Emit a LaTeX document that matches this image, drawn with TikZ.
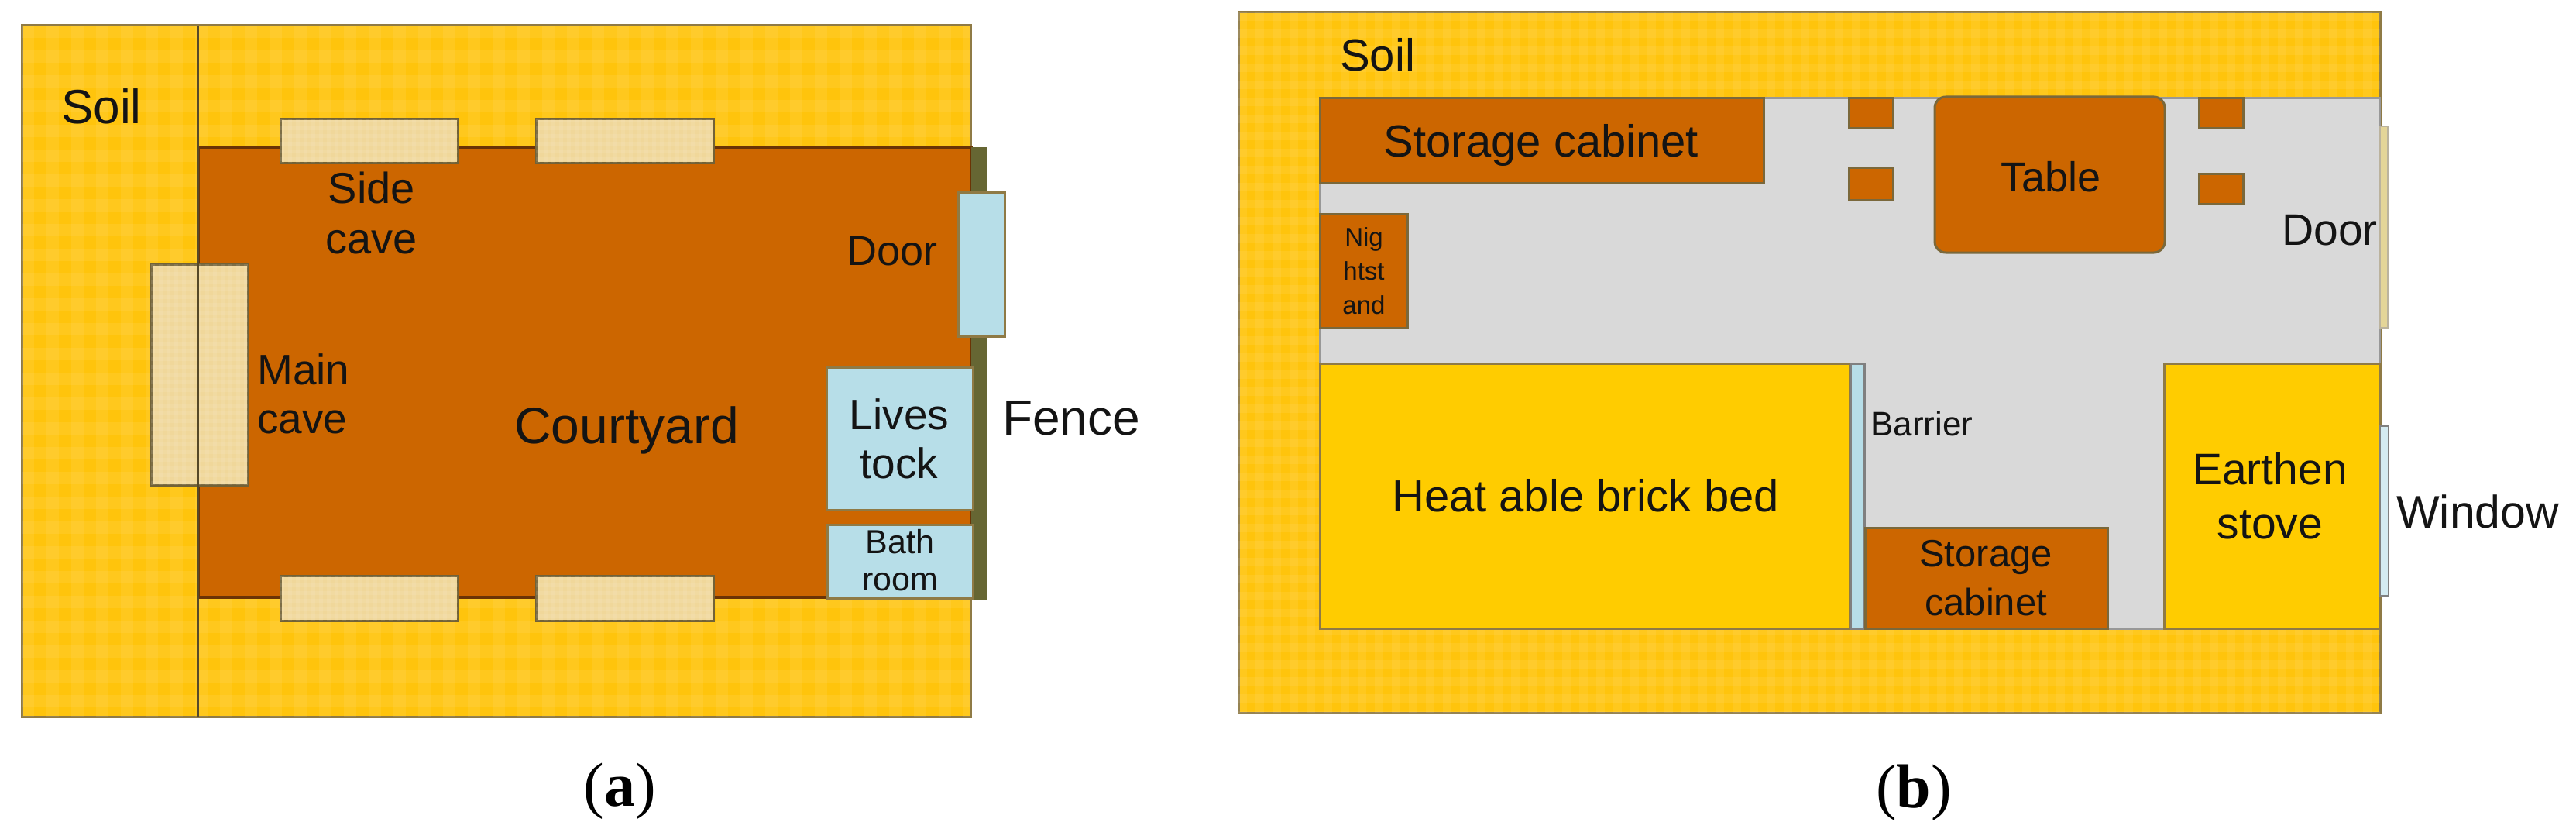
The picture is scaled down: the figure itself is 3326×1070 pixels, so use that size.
\documentclass[tikz,border=0pt]{standalone}
\usepackage{fontspec}
\setmainfont{Liberation Sans}
\newfontfamily\capfont{Liberation Serif}
\newcommand{\fsz}[2]{\fontsize{#1}{#2}\selectfont}
% faint checks over a filled area: x1 y1 x2 y2 period opacity
\newcommand{\plaid}[6]{%
  \begin{scope}
    \clip (#1,#2) rectangle (#3,#4);
    \foreach \gx in {#1,\the\numexpr#1+#5\relax,...,#3}
      \fill[white,opacity=#6] (\gx,#2) rectangle (\gx+#5/2,#4);
    \foreach \gy in {#2,\the\numexpr#2+#5\relax,...,#4}
      \fill[white,opacity=#6] (#1,\gy) rectangle (#3,\gy+#5/2);
  \end{scope}}
\definecolor{soilc}{HTML}{FFC40C}
\definecolor{edgec}{HTML}{8F7A45}
\definecolor{yardc}{HTML}{CC6600}
\definecolor{yardedge}{HTML}{6B3305}
\definecolor{fencec}{HTML}{666633}
\definecolor{cavec}{HTML}{F0D79A}
\definecolor{bluec}{HTML}{B7DEE8}
\definecolor{floorc}{HTML}{D9D9D9}
\definecolor{bedc}{HTML}{FFCC00}
\tikzset{
  soilbox/.style={fill=soilc,draw=edgec,line width=3pt},
  yardbox/.style={fill=yardc,draw=yardedge,line width=4pt},
  cavebox/.style={fill=cavec,draw=edgec!80!black,line width=3pt},
  bluebox/.style={fill=bluec,draw=edgec,line width=3pt},
  woodbox/.style={fill=yardc,draw=edgec!85!black,line width=3pt},
  bedbox/.style={fill=bedc,draw=edgec,line width=3pt},
  lbl/.style={inner sep=0pt,align=center,text=black!92,anchor=base},
  lblw/.style={lbl,anchor=base west}
}
\begin{document}
\begin{tikzpicture}[x=1pt,y=-1pt]
\useasboundingbox (0,0) rectangle (3326,1070);

% --- (a) courtyard ---
\draw[soilbox] (28,33) rectangle (1253,925);
\plaid{28}{33}{1253}{925}{32}{0.07}
\draw[yardbox] (256,190) rectangle (1254,771);
\fill[fencec] (1254,190) rectangle (1275,775);
\foreach \cx in {362,692}{
  \draw[cavebox] (\cx,153) rectangle (\cx+229,210);
  \plaid{\cx}{153}{\the\numexpr\cx+229\relax}{210}{10}{0.08}
  \draw[cavebox] (\cx,743) rectangle (\cx+229,801);
  \plaid{\cx}{743}{\the\numexpr\cx+229\relax}{801}{10}{0.08}
}
\draw[cavebox] (195,341) rectangle (320,626);
\plaid{195}{341}{320}{626}{10}{0.08}
\draw[bluebox] (1237,248) rectangle (1297,434);
\draw[bluebox] (1067,474) rectangle (1256,658);
\draw[bluebox] (1068,677) rectangle (1256,772);
\draw[edgec!60!black,line width=2.5pt] (256,33) -- (256,925);

\node[lbl,font=\fsz{62}{62}] (soilA) at (131,159) {Soil};
\node[lbl,font=\fsz{56}{65}] (sidecave) at (480,327) {Side\\cave};
\node[lblw,font=\fsz{55}{63},align=left] (maincave) at (332,559) {Main\\cave};
\node[lbl,font=\fsz{66}{66}] (yard) at (809,572) {Courtyard};
\node[lbl,font=\fsz{54}{54}] (doorA) at (1152,342) {Door};
\node[lbl,font=\fsz{55}{63}] (livestock) at (1161,617) {Lives\\tock};
\node[lbl,font=\fsz{43}{48}] (bathroom) at (1162,762) {Bath\\room};
\node[lblw,font=\fsz{64}{64}] (fence) at (1294,561) {Fence};

% --- (b) cave room ---
\draw[soilbox] (1599,16) rectangle (3073,920);
\plaid{1599}{16}{3073}{920}{22}{0.07}
\draw[floorc!70!black,fill=floorc,line width=3pt] (1704,127) rectangle (3072,811);
\draw[woodbox] (1704,127) rectangle (2277,236);
\foreach \sx/\sa/\sb in {2387/216/258,2839/224/263}{
  \draw[woodbox] (\sx,127) rectangle (\sx+57,165);
  \draw[woodbox] (\sx,\sa) rectangle (\sx+57,\sb);
}
\draw[woodbox,rounded corners=14pt] (2498,125) rectangle (2795,326);
\draw[woodbox] (1704,276) rectangle (1817,423);
\draw[bedbox] (1704,469) rectangle (2388,811);
\draw[bluebox,draw=gray] (2389,469) rectangle (2407,811);
\draw[woodbox] (2408,681) rectangle (2721,811);
\draw[bedbox] (2794,469) rectangle (3072,811);
\draw[floorc!60!edgec,fill=floorc!70!bedc,line width=2pt] (3073,163) rectangle (3083,423);
\draw[gray,fill=bluec!60!white,line width=2pt] (3073,550) rectangle (3084,769);

\node[lblw,font=\fsz{58}{58}] (soilB) at (1730,92) {Soil};
\node[lbl,font=\fsz{58}{58}] (cabinetA) at (1990,202) {Storage cabinet};
\node[lbl,font=\fsz{33}{44}] (nightstand) at (1761,405) {Nig\\htst\\and};
\node[lbl,font=\fsz{54}{54}] (tablebox) at (2648,247) {Table};
\node[lblw,font=\fsz{57}{57}] (doorB) at (2946,316) {Door};
\node[lbl,font=\fsz{58}{58}] (bed) at (2047,660) {Heat able brick bed};
\node[lblw,font=\fsz{44}{44}] (barrier) at (2415,562) {Barrier};
\node[lbl,font=\fsz{49}{63}] (cabinetB) at (2564,794) {Storage\\cabinet};
\node[lbl,font=\fsz{57}{70}] (stove) at (2931,695) {Earthen\\stove};
\node[lblw,font=\fsz{59}{59}] (windowbox) at (3094,681) {Window};

% --- captions ---
\node[lbl,text=black,font=\capfont\fsz{80}{80}] (capA) at (800,1040) {(\textbf{a})};
\node[lbl,text=black,font=\capfont\fsz{80}{80}] (capB) at (2471,1042) {(\textbf{b})};
\end{tikzpicture}
\end{document}
